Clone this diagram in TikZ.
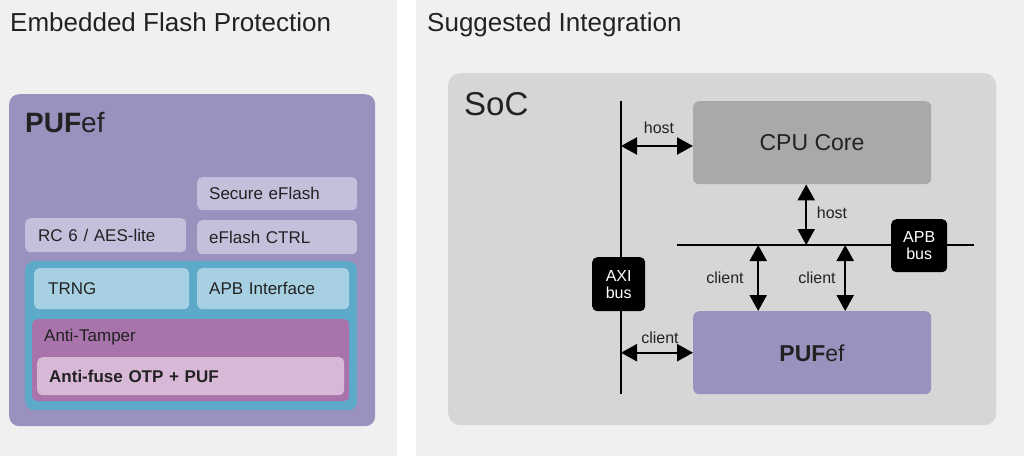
\documentclass[tikz,border=0pt]{standalone}
\usepackage{fontspec}
\setmainfont{Liberation Sans}
\usetikzlibrary{arrows.meta}
\definecolor{panelbg}{HTML}{F0F0F0}
\definecolor{purp}{HTML}{9A91BF}
\definecolor{lav}{HTML}{C6BFDB}
\definecolor{blueo}{HTML}{5DA9C9}
\definecolor{bluei}{HTML}{A7D1E2}
\definecolor{tamper}{HTML}{A974AB}
\definecolor{fuse}{HTML}{D7B8D6}
\definecolor{socbg}{HTML}{D6D6D6}
\definecolor{cpu}{HTML}{A9A9A9}
\definecolor{txt}{HTML}{222222}
\newcommand{\fsz}[1]{\fontsize{#1}{#1}\selectfont}
\begin{document}
\begin{tikzpicture}[x=1pt,y=-1pt,
  rbox/.style={inner sep=0pt, anchor=north west, draw=none},
  tbox/.style={rbox, rounded corners=5pt, inner xsep=12pt, align=left, text=txt, font=\fsz{17}},
  lbl/.style={inner sep=0pt, text=txt, font=\fsz{16}},
  bus/.style={line width=2.5pt, black},
  conn/.style={line width=2.3pt, black, {Triangle[length=16pt,width=17pt]}-{Triangle[length=16pt,width=17pt]}},
  busbox/.style={rbox, fill=black, rounded corners=5pt, text=white, align=center, font=\fsz{16}}
]
\useasboundingbox (0,0) rectangle (1024,456);
\fill[white] (0,0) rectangle (1024,456);
\fill[panelbg] (0,0) rectangle (397,456);
\fill[panelbg] (416,0) rectangle (1024,456);

% titles
\node[inner sep=0pt, anchor=base west, text=txt, font=\fsz{26}] (t1) at (10,31) {Embedded Flash Protection};
\node[inner sep=0pt, anchor=base west, text=txt, font=\fsz{26}] (t2) at (427,31) {Suggested Integration};

% ---------- left panel ----------
\node[rbox, fill=purp, rounded corners=10pt, minimum width=366pt, minimum height=332pt] (pufbig) at (9,94) {};
\node[inner sep=0pt, anchor=base west, text=txt, font=\fsz{28}] (puftitle) at (25,132) {\textbf{PUF}ef};

\node[tbox, fill=lav, text width=136pt, minimum height=33pt] (secure) at (197,177) {Secure eFlash};
\node[tbox, fill=lav, minimum height=34pt, inner xsep=13pt, text width=135pt] (rc6) at (25,218) {RC 6 / AES-lite};
\node[tbox, fill=lav, text width=136pt, minimum height=34pt] (ctrl) at (197,220) {eFlash CTRL};

\node[rbox, fill=blueo, rounded corners=9pt, minimum width=332pt, minimum height=149pt] (blue) at (25,261) {};
\node[tbox, fill=bluei, inner xsep=14pt, text width=127pt, minimum height=41pt] (trng) at (34,268) {TRNG};
\node[tbox, fill=bluei, text width=128pt, minimum height=41pt] (apbif) at (197,268) {APB Interface};
\node[rbox, fill=tamper, rounded corners=5pt, minimum width=317pt, minimum height=82pt] (tamper) at (32,319) {};
\node[inner sep=0pt, anchor=west, text=txt, font=\fsz{17}] (tamperlbl) at (44,337) {Anti-Tamper};
\node[tbox, fill=fuse, text width=283pt, minimum height=38pt, font=\fsz{17}\bfseries] (fuse) at (37,357) {Anti-fuse OTP + PUF};

% ---------- right panel ----------
\node[rbox, fill=socbg, rounded corners=12pt, minimum width=548pt, minimum height=352pt] (soc) at (448,73) {};
\node[inner sep=0pt, anchor=base west, text=txt, font=\fsz{33}] (soclbl) at (464,115) {SoC};

\node[rbox, fill=cpu, rounded corners=6pt, minimum width=238pt, minimum height=83pt] (cpucore) at (693,101) {};
\node[inner sep=0pt, text=txt, font=\fsz{23}] (cpulbl) at (812,143) {CPU Core};
\node[rbox, fill=purp, rounded corners=6pt, minimum width=238pt, minimum height=83pt] (pufsmall) at (693,311) {};
\node[inner sep=0pt, text=txt, font=\fsz{23}] (puflbl) at (812,353) {\textbf{PUF}ef};

% buses
\coordinate (axitop) at (621,101);
\coordinate (axibot) at (621,394);
\coordinate (apbL) at (677,245);
\coordinate (apbR) at (974,245);
\draw[bus] (axitop) -- (axibot);
\draw[bus] (apbL) -- (apbR);

% connectors
\draw[conn] (axitop |- 0,146) -- (cpucore.west |- 0,146);
\draw[conn] (axitop |- pufsmall.west) -- (pufsmall.west);
\draw[conn] ([xshift=-6pt]cpucore.south) -- ([xshift=-6pt]cpucore.south |- apbL);
\draw[conn] ([xshift=-54pt]pufsmall.north |- apbL) -- ([xshift=-54pt]pufsmall.north);
\draw[conn] ([xshift=33pt]pufsmall.north |- apbL) -- ([xshift=33pt]pufsmall.north);

% bus boxes
\node[busbox, minimum width=53pt, minimum height=54pt] (axi) at (592,257) {AXI\\[1pt]bus};
\node[busbox, minimum width=56pt, minimum height=53pt] (apb) at (891,219) {APB\\[1pt]bus};

% labels
\node[lbl] (h1) at (659,128) {host};
\node[lbl] (h2) at (832,213) {host};
\node[lbl] (c0) at (660,338) {client};
\node[lbl] (c1) at (725,278) {client};
\node[lbl] (c2) at (817,278) {client};
\end{tikzpicture}
\end{document}
